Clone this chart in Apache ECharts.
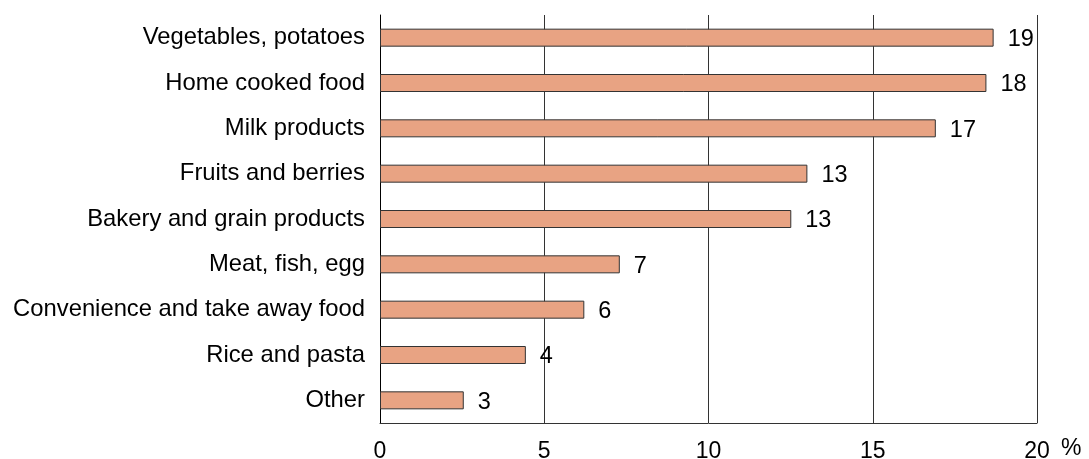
<!DOCTYPE html>
<html>
<head>
<meta charset="utf-8">
<script src="https://cdn.jsdelivr.net/npm/echarts@6/dist/echarts.min.js"></script>
<style>html,body{margin:0;padding:0;background:#fff}#c{width:1089px;height:459px}</style>
</head>
<body>
<div id="c"></div>
<script>
var categories = ['Vegetables, potatoes','Home cooked food','Milk products','Fruits and berries','Bakery and grain products','Meat, fish, egg','Convenience and take away food','Rice and pasta','Other'];
var values = [18.68, 18.46, 16.92, 13.01, 12.52, 7.30, 6.22, 4.44, 2.55];
var valueLabels = [19, 18, 17, 13, 13, 7, 6, 4, 3];
var xTicks = [0, 5, 10, 15, 20];

var FONT = 'Liberation Sans, Arial, sans-serif';
var chart = echarts.init(document.getElementById('c'), null, {renderer:'canvas'});
chart.setOption({
  animation: false,
  grid: {left: 380, right: 52, top: 15, bottom: 36, containLabel: false, outerBoundsMode: 'none'},
  xAxis: {
    type: 'value', min: xTicks[0], max: xTicks[xTicks.length-1], interval: 5,
    name: '%', nameLocation: 'end', nameGap: 24,
    nameTextStyle: {fontFamily: FONT, fontSize: 23, color: '#000', verticalAlign: 'top', padding: [14,0,0,0]},
    axisLine: {show: true, lineStyle: {color: '#333', width: 1}},
    axisTick: {show: false},
    axisLabel: {fontFamily: FONT, fontSize: 23, color: '#000', margin: 17},
    splitLine: {show: true, lineStyle: {color: '#333', width: 1}}
  },
  yAxis: {
    type: 'category', data: categories, inverse: true,
    axisLine: {show: true, lineStyle: {color: '#000', width: 1}},
    axisTick: {show: false},
    axisLabel: {fontFamily: FONT, fontSize: 23.8, color: '#000', margin: 15}
  },
  series: [{
    type: 'bar', data: values, barWidth: 18,
    itemStyle: {color: '#E8A383', borderColor: '#333', borderWidth: 1},
    label: {show: true, position: 'right', distance: 14, offset: [0, 2], fontFamily: FONT, fontSize: 23.5, color: '#000',
      formatter: function(p){ return String(valueLabels[p.dataIndex]); }}
  }]
});
</script>
</body>
</html>
